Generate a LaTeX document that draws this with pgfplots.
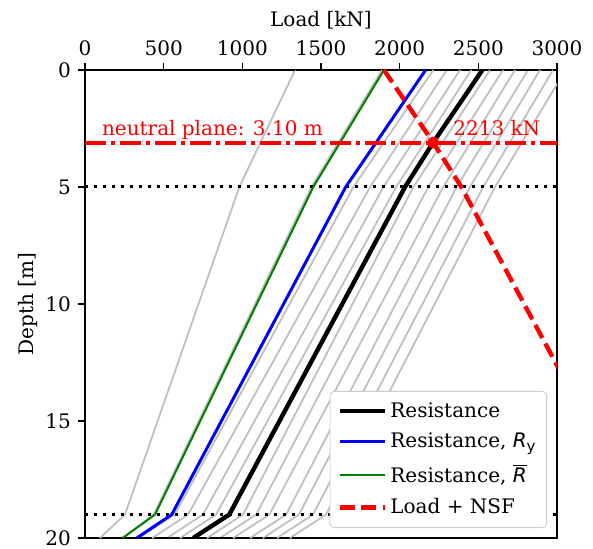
\documentclass[border=0pt]{standalone}
\usepackage{pgfplots}
\pgfplotsset{compat=1.18}
\usepackage{fontspec}
\setmainfont{DejaVu Serif}
\newfontfamily\dvs{DejaVu Sans}
\definecolor{gline}{RGB}{192,192,192}
\definecolor{mgreen}{RGB}{0,128,0}
\definecolor{legedge}{RGB}{204,204,204}
\begin{document}
\begin{tikzpicture}
\path[use as bounding box] (-42.5pt,-5.5pt) rectangle (254pt,269pt);
\begin{axis}[name=ax, at={(0pt,0pt)}, anchor=south west,
  scale only axis, width=236pt, height=234pt,
  xmin=0, xmax=3000, ymin=0, ymax=20, y dir=reverse,
  xtick={0,500,1000,1500,2000,2500,3000},
  ytick={0,5,10,15,20},
  xtick pos=right, xticklabel pos=right, ytick pos=left,
  tick align=outside, major tick length=3.5pt,
  every tick/.style={black, line width=0.8pt},
  axis line style={line width=0.8pt},
  /pgf/number format/assume math mode=true,
  /pgf/number format/1000 sep={},
  legend cell align=left,
  legend image code/.code={\draw[#1] (0pt,0pt) -- (22.5pt,0pt);},
  legend style={at={(axis description cs:1,0)}, anchor=south east,
    xshift=-5pt, yshift=5pt, draw=legedge, rounded corners=2pt,
    fill=white, inner xsep=4pt, inner ysep=4pt, row sep=3.5pt,
    nodes={inner sep=1.5pt},
    /tikz/every even column/.append style={column sep=7.5pt}},
]
% gray family
\addplot[gline, line width=0.9pt, forget plot] coordinates {(1335,0) (981,5) (254,19) (95,20)};
\addplot[gline, line width=0.9pt, forget plot] coordinates {(1888,0) (1439,5) (436,19) (236,20)};
\addplot[gline, line width=0.9pt, forget plot] coordinates {(2214,0) (1706,5) (570,19) (340,20)};
\addplot[gline, line width=0.9pt, forget plot] coordinates {(2299,0) (1812,5) (655,19) (426,20)};
\addplot[gline, line width=0.9pt, forget plot] coordinates {(2384,0) (1897,5) (750,19) (521,20)};
\addplot[gline, line width=0.9pt, forget plot] coordinates {(2455,0) (1978,5) (833,19) (604,20)};
\addplot[gline, line width=0.9pt, forget plot] coordinates {(2574,0) (2087,5) (1004,19) (775,20)};
\addplot[gline, line width=0.9pt, forget plot] coordinates {(2657,0) (2182,5) (1088,19) (858,20)};
\addplot[gline, line width=0.9pt, forget plot] coordinates {(2733,0) (2277,5) (1172,19) (941,20)};
\addplot[gline, line width=0.9pt, forget plot] coordinates {(2816,0) (2362,5) (1278,19) (1049,20)};
\addplot[gline, line width=0.9pt, forget plot] coordinates {(2892,0) (2447,5) (1360,19) (1131,20)};
\addplot[gline, line width=0.9pt, forget plot] coordinates {(2975,0) (2531,5) (1449,19) (1220,20)};
\addplot[gline, line width=0.9pt, forget plot] coordinates {(3055,0) (2606,5) (1532,19) (1303,20)};
% dotted layer boundaries
\addplot[black, line width=1.5pt, dash pattern=on 1.5pt off 3pt, forget plot] coordinates {(0,0) (3000,0)};
\addplot[black, line width=1.5pt, dash pattern=on 1.5pt off 3pt, forget plot] coordinates {(0,5) (3000,5)};
\addplot[black, line width=1.5pt, dash pattern=on 1.5pt off 3pt, forget plot] coordinates {(0,19) (3000,19)};
\addplot[black, line width=1.5pt, dash pattern=on 1.5pt off 3pt, forget plot] coordinates {(0,20) (3000,20)};
% main curves
\addplot[black, line width=2.2pt] coordinates {(2526,0) (2213,3.1) (2034,5) (917,19) (688,20)};
\addlegendentry{Resistance}
\addplot[blue, line width=1.5pt] coordinates {(2165,0) (1657,5) (551,19) (329,20)};
\addlegendentry{Resistance, {\dvs\itshape R}\raisebox{-0.4ex}{\dvs\fontsize{7.5}{8}\selectfont y}}
\addplot[mgreen, line width=1pt] coordinates {(1900,0) (1451,5) (445,19) (240,20)};
\addlegendentry{Resistance, $\overline{\hbox{\dvs\itshape R}}$}
\addplot[red, line width=2.2pt, dash pattern=on 7.4pt off 3.2pt] coordinates {(1900,0) (2213,3.1) (2392,5) (3509,19)};
\addlegendentry{Load + NSF}
% neutral plane
\addplot[red, line width=2pt, dash pattern=on 10.5pt off 2.5pt on 2pt off 2.5pt, forget plot] coordinates {(0,3.1) (3000,3.1)};
\addplot[red, only marks, mark=*, mark size=2.8pt, forget plot] coordinates {(2213,3.1)};
\node[red, anchor=base west, inner sep=0pt, yshift=3.5pt] at (axis cs:106,3.1) {neutral plane: 3.10 m};
\node[red, anchor=base west, inner sep=0pt, yshift=3.5pt] at (axis cs:2339,3.1) {2213 kN};
\end{axis}
\node[anchor=base, inner sep=0pt] at ([yshift=21.5pt]ax.north) {Load [kN]};
\node[rotate=90, anchor=south, inner sep=0pt] at ([xshift=-23.5pt]ax.west) {Depth [m]};
\end{tikzpicture}
\end{document}
